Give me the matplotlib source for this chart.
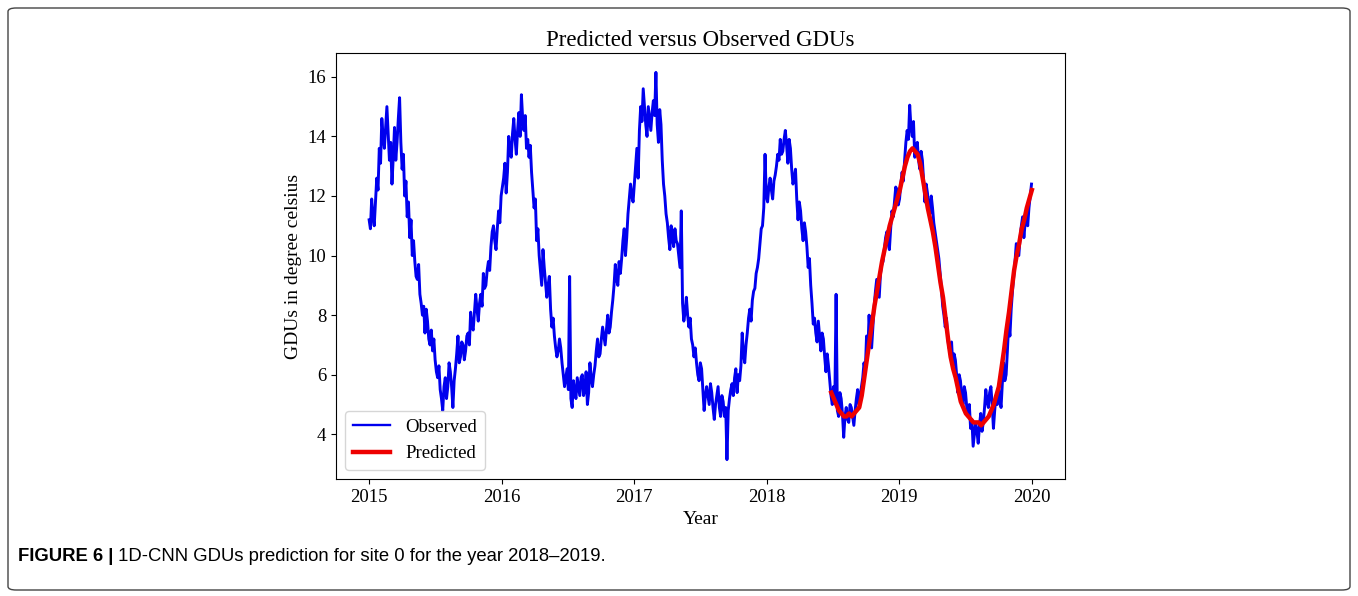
import matplotlib
matplotlib.use("Agg")
import matplotlib.pyplot as plt
import matplotlib.dates as mdates
from matplotlib.patches import FancyBboxPatch
import pandas as pd

# ---- data (half-weekly readings from the picture) ----
obs_2015 = [11.2, 10.9, 11.9, 11.3, 11.0, 11.8, 12.6, 12.2, 13.6, 13.1, 14.6, 14.0, 13.6, 14.3,
            15.0, 14.1, 13.2, 13.8, 12.4, 13.3, 14.3, 13.2, 13.8, 14.6, 15.3, 13.8, 12.9, 13.4,
            12.0, 12.5, 11.3, 11.8, 10.6, 11.2, 10.0, 10.5, 9.8, 9.3, 9.2, 9.7, 8.7, 8.4, 8.0,
            8.3, 7.4, 8.2, 7.8, 7.2, 7.0, 7.5, 6.8, 7.2, 6.5, 6.1, 5.9, 6.3, 5.5, 5.2, 4.8, 5.6,
            5.9, 5.2, 5.6, 6.4, 6.1, 5.6, 4.9, 5.8, 6.2, 6.7, 7.3, 6.4, 6.6, 7.1, 7.0, 6.5, 6.8,
            7.3, 7.4, 7.0, 8.1, 7.6, 7.5, 8.1, 8.7, 8.2, 7.8, 8.4, 8.7, 8.3, 9.4, 8.9, 9.0, 9.5,
            9.8, 9.5, 10.3, 10.8, 11.0, 10.5, 10.2, 10.9, 11.5, 11.1, 12.0]
obs_2016 = [12.3, 12.6, 13.1, 12.1, 12.8, 14.0, 13.5, 13.3, 14.1, 14.6, 13.9, 13.4, 14.2, 14.8,
            14.0, 15.4, 14.6, 14.2, 14.7, 13.6, 13.9, 13.3, 13.7, 12.8, 12.2, 11.6, 11.9, 10.5,
            10.9, 10.0, 9.5, 9.0, 10.2, 9.6, 9.1, 8.6, 9.0, 9.3, 8.2, 7.6, 7.9, 7.3, 6.9, 6.6,
            6.8, 7.2, 6.9, 6.4, 6.0, 5.6, 5.9, 6.2, 5.5, 9.3, 5.2, 4.9, 5.8, 5.4, 5.2, 5.9, 5.6,
            5.3, 5.9, 6.0, 5.3, 5.5, 6.1, 5.0, 5.4, 6.4, 5.9, 5.6, 6.0, 6.3, 6.8, 7.2, 6.6, 6.7,
            7.2, 7.6, 7.3, 7.0, 7.5, 8.0, 7.4, 7.6, 8.1, 8.5, 9.0, 9.7, 9.2, 9.0, 9.8, 9.4, 9.9,
            10.5, 10.9, 10.0, 10.6, 11.4, 11.9, 12.4, 12.0, 11.8]
obs_2017 = [12.4, 13.0, 13.6, 12.6, 14.2, 15.0, 14.5, 15.6, 15.0, 14.4, 14.0, 15.0, 14.6, 14.2,
            14.8, 15.2, 14.7, 16.15, 14.4, 13.8, 14.9, 14.4, 13.2, 12.4, 12.0, 11.4, 11.1, 10.6,
            10.2, 11.0, 10.6, 10.3, 10.9, 10.5, 10.4, 10.0, 9.6, 11.5, 8.4, 7.8, 8.1, 8.6, 8.0,
            7.6, 7.9, 7.2, 7.0, 6.6, 6.9, 6.4, 6.0, 5.8, 6.4, 6.2, 5.5, 4.8, 5.3, 5.6, 5.3, 5.0,
            5.7, 5.4, 4.9, 4.5, 5.0, 5.3, 5.6, 4.9, 4.6, 5.3, 5.1, 4.6, 4.9, 3.15, 4.8, 5.2, 5.5,
            5.7, 5.3, 5.9, 6.2, 5.4, 6.0, 5.8, 6.3, 7.4, 6.7, 6.4, 7.0, 7.4, 7.9, 8.2, 7.8, 8.5,
            8.8, 8.9, 9.4, 9.6, 9.9, 10.4, 10.9, 11.0, 11.6, 13.4]
obs_2018 = [12.0, 11.8, 12.3, 12.6, 12.2, 11.9, 12.5, 12.7, 13.0, 13.4, 13.2, 13.9, 13.4, 13.5,
            13.9, 14.2, 13.7, 13.1, 13.9, 13.6, 12.9, 12.4, 12.6, 12.9, 11.9, 11.2, 11.8, 11.5,
            10.9, 10.5, 11.1, 10.8, 10.3, 9.6, 9.9, 9.0, 8.4, 7.7, 7.9, 7.4, 7.1, 7.8, 7.3, 6.8,
            7.4, 7.2, 6.6, 6.1, 6.7, 6.3, 5.8, 5.3, 5.0, 5.6, 5.1, 8.7, 4.8, 4.6, 5.4, 5.2, 4.7,
            3.9, 4.6, 4.9, 4.5, 4.4, 5.0, 4.9, 4.6, 4.3, 4.8, 5.2, 5.5, 5.0, 5.3, 5.6, 5.9, 6.4,
            6.1, 7.3, 6.8, 8.0, 7.2, 6.9, 7.6, 8.3, 8.8, 9.2, 8.9, 8.6, 9.4, 9.7, 9.8, 10.2, 10.6,
            10.8, 10.4, 10.2, 10.9, 11.5, 11.3, 11.8, 12.3, 12.2]
obs_2019 = [11.7, 11.9, 12.4, 12.8, 12.5, 13.2, 13.8, 14.2, 13.9, 15.05, 14.3, 14.0, 14.5, 13.3,
            13.6, 13.8, 13.2, 12.9, 13.5, 13.2, 12.5, 11.8, 12.4, 12.1, 11.7, 11.4, 12.0, 11.6,
            11.1, 10.8, 10.5, 10.2, 9.9, 9.4, 8.9, 8.3, 8.0, 7.6, 7.9, 7.2, 6.9, 6.8, 7.1, 6.3,
            6.7, 6.5, 6.0, 5.4, 6.0, 5.8, 5.3, 5.0, 5.6, 5.4, 4.9, 4.6, 5.0, 4.2, 4.5, 3.6, 4.0,
            4.4, 4.1, 3.7, 4.3, 4.7, 4.1, 4.4, 4.9, 5.5, 5.1, 4.9, 5.4, 5.6, 5.0, 4.2, 4.8, 5.3,
            5.0, 5.6, 5.2, 4.9, 5.7, 6.4, 5.8, 6.0, 6.8, 7.7, 7.3, 8.2, 8.8, 9.3, 9.8, 10.4, 10.2,
            10.0, 10.6, 11.0, 11.3, 10.6, 11.1, 11.4, 11.0, 11.6, 12.0, 12.4]
observed = obs_2015 + obs_2016 + obs_2017 + obs_2018 + obs_2019
obs_start = "2015-01-01"
obs_end = "2020-01-01"

predicted = [5.4, 5.2, 5.0, 4.8, 4.7, 4.6, 4.6, 4.7, 4.6, 4.7, 4.8, 4.9, 5.3, 5.9, 6.5, 7.1,
             7.7, 8.3, 8.8, 9.3, 9.8, 10.2, 10.6, 11.0, 11.3, 11.6, 11.9, 12.2, 12.6, 13.0,
             13.3, 13.5, 13.6, 13.5, 13.4, 13.1, 12.6, 12.1, 11.6, 11.2, 10.8, 10.3, 9.7, 9.1,
             8.6, 7.9, 7.2, 6.6, 6.2, 5.9, 5.5, 5.1, 4.9, 4.7, 4.6, 4.5, 4.4, 4.4, 4.4, 4.3,
             4.4, 4.5, 4.6, 4.8, 5.0, 5.3, 5.6, 6.2, 6.8, 7.5, 8.1, 8.8, 9.5, 10.0, 10.4, 10.9,
             11.2, 11.6, 11.9, 12.2]
pred_start = "2018-06-28"

title = "Predicted versus Observed GDUs"
xlabel = "Year"
ylabel = "GDUs in degree celsius"
labels = ["Observed", "Predicted"]
caption_bold = "FIGURE 6 |"
caption_rest = " 1D-CNN GDUs prediction for site 0 for the year 2018\u20132019."

obs_dates = pd.date_range(obs_start, obs_end, periods=len(observed))
pred_dates = pd.date_range(pred_start, periods=len(predicted), freq="7D")

plt.rcParams["font.family"] = ["Liberation Serif", "DejaVu Serif"]
plt.rcParams["font.size"] = 14

W, H = 1358, 596
fig = plt.figure(figsize=(W / 100, H / 100), dpi=100)

# outer frame
frame = FancyBboxPatch((8 / W, 6 / H), 1342 / W, 582 / H,
                       boxstyle="round,pad=0,rounding_size=0.006",
                       transform=fig.transFigure, fill=False,
                       edgecolor="#444444", linewidth=1.0)
fig.patches.append(frame)

ax = fig.add_axes([336 / W, 1 - 479 / H, (1065 - 336) / W, (479 - 53) / H])
ax.plot(obs_dates, observed, color="#0000ee", linewidth=2.1, label=labels[0])
ax.plot(pred_dates, predicted, color="#ee0000", linewidth=3.2, label=labels[1])

ax.xaxis.set_major_locator(mdates.YearLocator())
ax.xaxis.set_major_formatter(mdates.DateFormatter("%Y"))
ax.set_yticks([4, 6, 8, 10, 12, 14, 16])
ax.set_title(title, fontsize=16.5, pad=5)
ax.set_xlabel(xlabel, fontsize=14)
ax.set_ylabel(ylabel, fontsize=14)
ax.tick_params(labelsize=13.5)
leg = ax.legend(loc="lower left", fontsize=13.5)
leg.get_lines()[0].set_linewidth(1.7)

cap_fam = ["Liberation Sans Narrow", "Liberation Sans", "DejaVu Sans"]
tb = fig.text(18 / W, 1 - 561 / H, caption_bold, fontsize=13.3, fontweight="bold",
              family=cap_fam, va="baseline")
ax.annotate(caption_rest, xy=(1, 0), xycoords=tb, fontsize=13.3, family=cap_fam,
            va="bottom", ha="left", annotation_clip=False)

fig.savefig("out.png", dpi=100)
